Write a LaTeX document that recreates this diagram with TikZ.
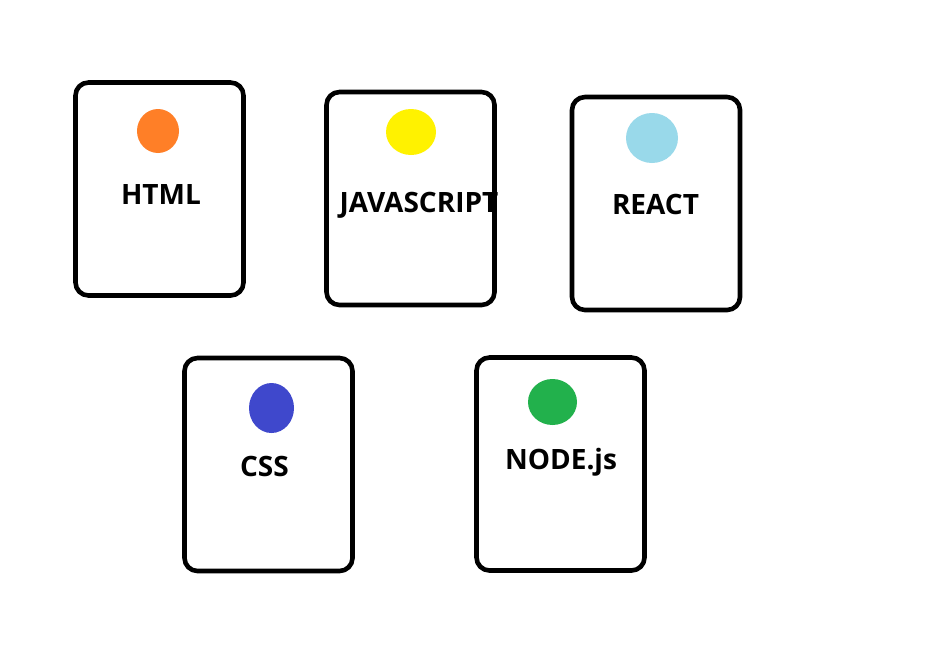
\documentclass[tikz,border=0pt]{standalone}
\usepackage{fontspec}
\setmainfont{Open Sans}
\usepackage{tikz}
\usetikzlibrary{shapes.geometric}
\usepackage{xcolor}
\definecolor{paintorange}{HTML}{FF7F27}
\definecolor{paintyellow}{HTML}{FFF200}
\definecolor{paintsky}{HTML}{99D9EA}
\definecolor{paintblue}{HTML}{3F48CC}
\definecolor{paintgreen}{HTML}{22B14C}

\begin{document}
\begin{tikzpicture}[x=1pt, y=-1pt,
  card/.style={draw=black, line width=4.6pt, rounded corners=13pt, fill=white,
               minimum width=168pt, minimum height=213pt, inner sep=0pt},
  dot/.style={ellipse, fill=#1, draw=none, inner sep=0pt},
  lbl/.style={anchor=base, inner sep=0pt, font=\fontsize{28}{32}\selectfont\bfseries}]
  \useasboundingbox (0,0) rectangle (952,651);
  % --- top row ---
  \foreach \n/\x/\y in {html/159.5/189, js/410.5/198.5, react/656/203.5}{
    \node[card] (\n) at (\x,\y) {};
  }
  % --- bottom row ---
  \foreach \n/\x/\y in {css/268.5/464.5, node/560.5/464}{
    \node[card] (\n) at (\x,\y) {};
  }
  % --- dots ---
  \foreach \n/\c/\x/\y/\w/\h in {html/paintorange/158/131/42/44, js/paintyellow/411/132/50/46,
                                 react/paintsky/652/138/52/50, css/paintblue/271.5/408/45/50,
                                 node/paintgreen/552.5/402/49/46}{
    \node[dot=\c, minimum width=\w pt, minimum height=\h pt] (\n-dot) at (\x,\y) {};
  }
  % --- labels ---
  \node[lbl] (html-lbl) at (161,204.3) {HTML};
  \node[lbl] (js-lbl) at (419,212) {JAVASCRIPT};
  \node[lbl] (react-lbl) at (655.5,214) {REACT};
  \node[lbl] (css-lbl) at (264.5,476) {CSS};
  \node[lbl] (node-lbl) at (561,469) {NODE.js};
\end{tikzpicture}
\end{document}
